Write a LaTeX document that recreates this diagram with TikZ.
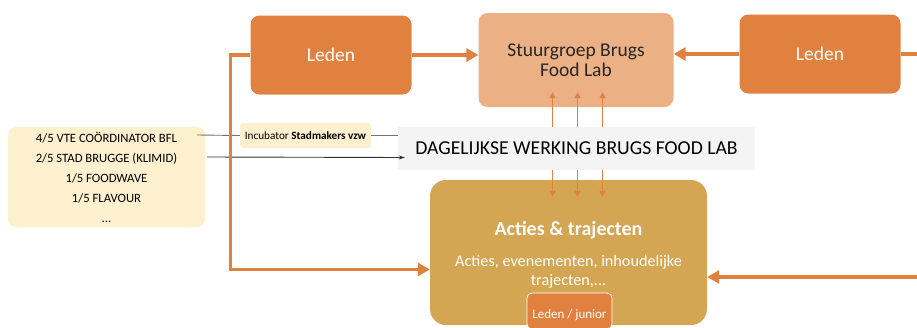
\documentclass[tikz,border=0pt]{standalone}
\usepackage{fontspec}
\setmainfont{Carlito}
\usetikzlibrary{arrows.meta}
\definecolor{ledenorange}{HTML}{E0813F}
\definecolor{stuurpeach}{HTML}{EBB185}
\definecolor{actiesgold}{HTML}{D4A552}
\definecolor{creme}{HTML}{FCF0CF}
\definecolor{bandgrey}{HTML}{F4F4F4}
\begin{document}
\begin{tikzpicture}[x=1pt, y=-1pt,
    box/.style = {rounded corners=9pt, inner sep=0pt, align=center},
    leden/.style = {box, fill=ledenorange, text=white, minimum width=161pt, minimum height=79pt, font=\fontsize{19.5}{20}\selectfont},
    flow/.style = {draw=ledenorange, line width=3.5pt, -{Triangle[length=12pt,width=13pt]}},
    feed/.style = {draw=ledenorange, line width=1.8pt, -{Triangle[length=6pt,width=6pt]}},
    thin/.style = {line width=0.9pt}]

    \useasboundingbox (0,0) rectangle (917,327);

    % top row
    \node[leden] (ledenL) at (331,55) {Leden};
    \node[leden] (ledenR) at (820,54) {Leden};
    \node[box, fill=stuurpeach, text=black!85, minimum width=195pt, minimum height=94pt,
      font=\fontsize{19.5}{20}\selectfont] (stuur) at (576,60) {Stuurgroep Brugs\\Food Lab};

    % middle band
    \node[fill=bandgrey, minimum width=357pt, minimum height=43pt, inner sep=0pt,
      font=\fontsize{19.7}{20}\selectfont] (dag) at (576.5,148.5) {DAGELIJKSE WERKING BRUGS FOOD LAB};
    \node[box, rounded corners=8pt, fill=creme, minimum width=197pt, minimum height=100pt,
      font=\fontsize{12.7}{20}\selectfont] (team) at (106.5,177)
      {4/5 VTE COÖRDINATOR BFL\\2/5 STAD BRUGGE (KLIMID)\\1/5 FOODWAVE\\1/5 FLAVOUR\\...};
    \node[box, rounded corners=3pt, fill=creme, minimum width=131pt, minimum height=25pt,
      font=\fontsize{11.2}{12}\selectfont] (inc) at (305.5,135.5) {Incubator \textbf{Stadmakers vzw}};

    % bottom
    \node[box, rounded corners=16pt, fill=actiesgold, minimum width=277pt, minimum height=145pt] (acties) at (568.5,252.5) {};
    \node[text=white, font=\bfseries\fontsize{20}{22}\selectfont] (titel) at (568.5,230) {Acties \& trajecten};
    \node[text=white, align=center, font=\fontsize{16.2}{19}\selectfont] (sub) at (568.5,272)
      {Acties, evenementen, inhoudelijke\\trajecten,...};
    \node[box, rounded corners=5pt, draw=white, line width=0.8pt, fill=ledenorange, text=white,
      minimum width=85pt, minimum height=36pt, font=\fontsize{13}{15}\selectfont] (junior) at (569.5,311) {\raisebox{-7pt}[0pt][0pt]{Leden / junior}};

    \coordinate (rout) at (917,54);
    \coordinate (rin) at (917,277);

    % thin links
    \draw[thin, black!55] ([yshift=42pt,xshift=-8pt]team.east) -- (inc.west);
    \draw[thin, black!55] (inc.east) -- (dag.west |- inc.east);
    \draw[thin, black!80, -{Stealth[length=6pt,width=4pt]}] ([yshift=20pt,xshift=2pt]team.east) -- ([yshift=-9pt,xshift=7pt]dag.west);

    % orange flows
    \draw[flow] (ledenL.east) -- (stuur.west |- ledenL.east);
    \draw[flow] (ledenR.west) -- (stuur.east |- ledenR.west);
    \draw[draw=ledenorange, line width=3.5pt] (ledenR.east) -- (rout);
    \draw[flow] (ledenL.west) -- ++(-20,0) |- ([yshift=-17pt]acties.west);
    \draw[flow] (rin) -- (acties.east |- rin);

    \foreach \dx in {-24,1,26} {
      \draw[feed, shorten >=-15pt] ([xshift=\dx pt]dag.north) -- ([xshift=\dx pt]dag.north |- stuur.south);
      \draw[feed, shorten >=-17pt] ([xshift=\dx pt]dag.south) -- ([xshift=\dx pt]dag.south |- acties.north);
    }
\end{tikzpicture}
\end{document}
